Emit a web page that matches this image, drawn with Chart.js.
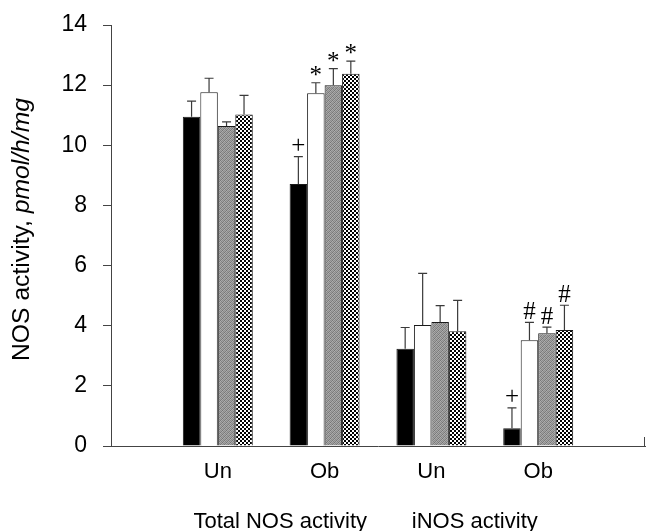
<!DOCTYPE html>
<html>
<head>
<meta charset="utf-8">
<script src="https://cdn.jsdelivr.net/npm/chart.js@4.4.1/dist/chart.umd.min.js"></script>
<style>
  html, body { margin: 0; padding: 0; background: #ffffff; }
  #c { display: block; }
</style>
</head>
<body>
<canvas id="c" width="647" height="531"></canvas>
<script>
// ---- data ----
const categories = ['', 'Un', 'Ob', 'Un', 'Ob', ''];
const groupLabels = ['Total NOS activity', 'iNOS activity'];
const yTicks = [0, 2, 4, 6, 8, 10, 12, 14];

const seriesBlack   = [null, 10.95, 8.71, 3.23, 0.59, null];
const seriesWhite   = [null, 11.76, 11.73, 4.02, 3.52, null];
const seriesGray    = [null, 10.64, 12.00, 4.12, 3.75, null];
const seriesChecker = [null, 11.02, 12.38, 3.82, 3.86, null];

const errBlack   = [null, 0.52, 0.91, 0.71, 0.68, null];
const errWhite   = [null, 0.47, 0.35, 1.72, 0.59, null];
const errGray    = [null, 0.14, 0.55, 0.55, 0.20, null];
const errChecker = [null, 0.64, 0.42, 1.02, 0.82, null];

const markBlack   = ['', '', '+', '', '+', ''];
const markWhite   = ['', '', '*', '', '#', ''];
const markGray    = ['', '', '*', '', '#', ''];
const markChecker = ['', '', '*', '', '#', ''];

// ---- fill patterns ----
function makeChecker() {
  const c = document.createElement('canvas');
  c.width = 4; c.height = 4;
  const g = c.getContext('2d');
  g.fillStyle = '#ffffff'; g.fillRect(0, 0, 4, 4);
  g.fillStyle = '#000000';
  g.fillRect(0, 0, 2, 2); g.fillRect(2, 2, 2, 2);
  return g.createPattern(c, 'repeat');
}
function makeGray() {
  const tone = [120,170,140,160, 175,130,165,125, 145,165,115,170, 160,125,175,135];
  const c = document.createElement('canvas');
  c.width = 4; c.height = 4;
  const g = c.getContext('2d');
  for (let i = 0; i < 16; i++) {
    const v = tone[i];
    g.fillStyle = 'rgb(' + v + ',' + v + ',' + v + ')';
    g.fillRect(i % 4, Math.floor(i / 4), 1, 1);
  }
  return g.createPattern(c, 'repeat');
}
const checkerFill = makeChecker();
const grayFill = makeGray();

const errs = [errBlack, errWhite, errGray, errChecker];
const marks = [markBlack, markWhite, markGray, markChecker];

// ---- plugin: error bars, significance marks, extra text ----
const extras = {
  id: 'extras',
  afterDatasetsDraw(chart) {
    const ctx = chart.ctx;
    const y = chart.scales.y;
    ctx.save();
    chart.data.datasets.forEach((ds, i) => {
      const meta = chart.getDatasetMeta(i);
      meta.data.forEach((el, j) => {
        const v = ds.data[j];
        if (v === null || v === undefined) return;
        const e = errs[i][j];
        const top = y.getPixelForValue(v + e);
        ctx.strokeStyle = '#3a3a3a';
        ctx.lineWidth = 1.2;
        ctx.beginPath();
        ctx.moveTo(el.x, el.y);
        ctx.lineTo(el.x, top);
        ctx.moveTo(el.x - 4.5, top);
        ctx.lineTo(el.x + 4.5, top);
        ctx.stroke();
        const m = marks[i][j];
        if (m) {
          ctx.font = '25px "Liberation Serif", "DejaVu Serif", serif';
          ctx.fillStyle = '#000';
          ctx.textAlign = 'center';
          ctx.textBaseline = 'alphabetic';
          const mt = ctx.measureText(m);
          const cy = top - 12;
          const base = cy + (mt.actualBoundingBoxAscent - mt.actualBoundingBoxDescent) / 2;
          ctx.fillText(m, el.x, base);
        }
      });
    });
    ctx.restore();
  },
  afterDraw(chart) {
    const ctx = chart.ctx;
    const x = chart.scales.x;
    const area = chart.chartArea;
    ctx.save();
    // right end tick of x axis
    ctx.strokeStyle = '#444';
    ctx.lineWidth = 1;
    ctx.beginPath();
    ctx.moveTo(area.right - 0.5, area.bottom);
    ctx.lineTo(area.right - 0.5, area.bottom - 9);
    ctx.stroke();
    // group labels
    ctx.fillStyle = '#000';
    ctx.font = '22px "Liberation Sans", Arial, sans-serif';
    ctx.textAlign = 'center';
    ctx.textBaseline = 'middle';
    ctx.fillText(groupLabels[0], (x.getPixelForValue(1) + x.getPixelForValue(2)) / 2 + 9, 522);
    ctx.fillText(groupLabels[1], (x.getPixelForValue(3) + x.getPixelForValue(4)) / 2 - 10, 522);
    // y axis title with italic unit
    const p1 = 'NOS activity, ';
    const p2 = 'pmol/h/mg';
    const f1 = '24.7px "Liberation Sans", Arial, sans-serif';
    const f2 = 'italic 24.7px "Liberation Sans", Arial, sans-serif';
    ctx.font = f1; const w1 = ctx.measureText(p1).width;
    ctx.font = f2; const w2 = ctx.measureText(p2).width;
    ctx.translate(22, 229.5);
    ctx.rotate(-Math.PI / 2);
    ctx.textAlign = 'left';
    ctx.textBaseline = 'middle';
    const start = -(w1 + w2) / 2;
    ctx.font = f1; ctx.fillText(p1, start, 0);
    ctx.font = f2; ctx.fillText(p2, start + w1, 0);
    ctx.restore();
  }
};

function zeroPad(scale) {
  scale.paddingLeft = 0; scale.paddingRight = 0;
  scale.paddingTop = 0; scale.paddingBottom = 0;
}

const common = { borderWidth: 1, borderColor: '#1a1a1a', categoryPercentage: 0.655, barPercentage: 1.0 };

new Chart(document.getElementById('c'), {
  type: 'bar',
  data: {
    labels: categories,
    datasets: [
      Object.assign({ label: 'A', data: seriesBlack, backgroundColor: '#000000' }, common),
      Object.assign({ label: 'B', data: seriesWhite, backgroundColor: '#ffffff' }, common),
      Object.assign({ label: 'C', data: seriesGray, backgroundColor: grayFill }, common),
      Object.assign({ label: 'D', data: seriesChecker, backgroundColor: checkerFill }, common)
    ]
  },
  options: {
    responsive: false,
    animation: false,
    events: [],
    layout: { padding: { left: 61, right: 2, top: 25, bottom: 35 } },
    plugins: { legend: { display: false }, tooltip: { enabled: false }, title: { display: false } },
    scales: {
      x: {
        offset: false,
        afterFit(scale) { scale.height = 50; zeroPad(scale); },
        grid: { display: false },
        border: { display: true, color: '#444', width: 1 },
        ticks: {
          color: '#000',
          padding: 5,
          maxRotation: 0,
          autoSkip: false,
          font: { family: '"Liberation Sans", Arial, sans-serif', size: 22 }
        }
      },
      y: {
        min: 0,
        max: 14,
        afterFit(scale) { scale.width = 50; zeroPad(scale); },
        afterBuildTicks(scale) { scale.ticks = yTicks.map(v => ({ value: v })); },
        grid: { drawOnChartArea: false, drawTicks: true, tickLength: 8, color: '#444' },
        border: { display: true, color: '#444', width: 1 },
        ticks: {
          color: '#000',
          padding: 16,
          font: { family: '"Liberation Sans", Arial, sans-serif', size: 23 }
        }
      }
    }
  },
  plugins: [extras]
});
</script>
</body>
</html>
